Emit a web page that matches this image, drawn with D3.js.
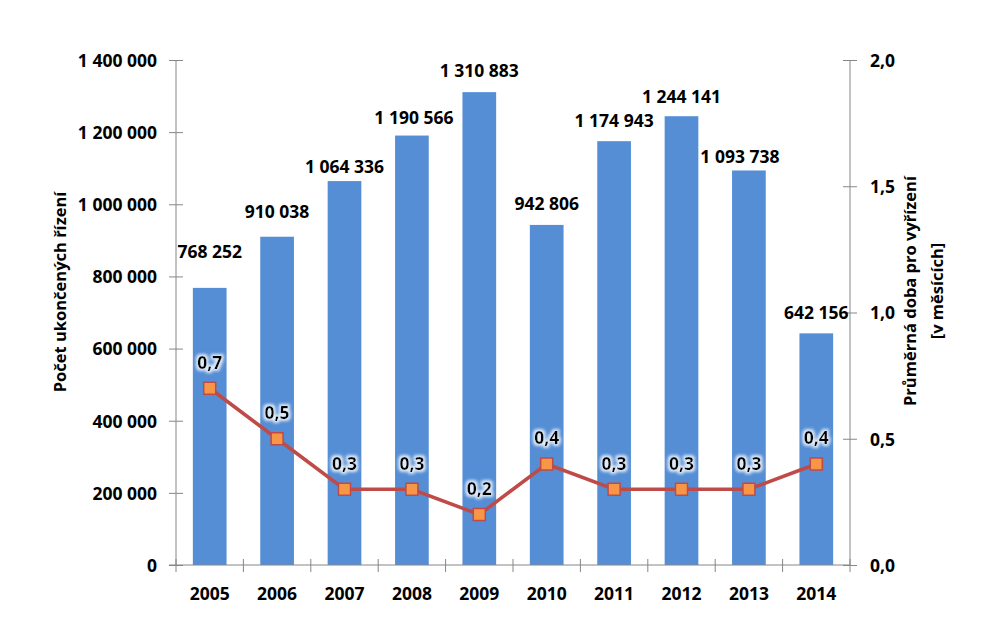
<!DOCTYPE html>
<html><head><meta charset="utf-8">
<script src="https://cdn.jsdelivr.net/npm/d3@7"></script>
<style>
html,body{margin:0;padding:0;background:#fff;}
text{font-family:"Open Sans",sans-serif;font-weight:bold;font-size:17.5px;fill:#000;}
text.title{font-size:16.5px;}
</style></head>
<body>
<svg id="c" width="982" height="638"></svg>
<script>
const years = ["2005","2006","2007","2008","2009","2010","2011","2012","2013","2014"];
const ended = [768252, 910038, 1064336, 1190566, 1310883, 942806, 1174943, 1244141, 1093738, 642156];
const avgMonths = [0.7, 0.5, 0.3, 0.3, 0.2, 0.4, 0.3, 0.3, 0.3, 0.4];
const leftTicks = [0, 200000, 400000, 600000, 800000, 1000000, 1200000, 1400000];
const rightTicks = [0, 0.5, 1.0, 1.5, 2.0];
const leftTitle = "Počet ukončených řízení";
const rightTitle = ["Průměrná doba pro vyřízení", "[v měsících]"];
// manual label nudges (layout only)
const barLabelDy = [-16, -5, 6, 2, -1, -1, 0, 0, 6, -1];
const barLabelDx = [0, 0, 0, 2, 0, 0, 0, 0, -9, 0];

const loc = d3.formatLocale({decimal: ",", thousands: "\u00a0", grouping: [3], currency: ["", ""]});
const fmtInt = loc.format(",d");
const fmt1 = loc.format(".1f");

const svg = d3.select("#c");
const L = 176, R = 850, T = 60, B = 565;
const x = d3.scaleBand().domain(years).range([L, R]).paddingInner(0.5).paddingOuter(0.25);
const yL = d3.scaleLinear().domain([0, 1400000]).range([B, T]);
const yR = d3.scaleLinear().domain([0, 2]).range([B, T]);
const axisCol = "#868686";

// bars
svg.append("g").selectAll("rect").data(years).join("rect")
  .attr("x", d => x(d)).attr("width", x.bandwidth())
  .attr("y", (d, i) => yL(ended[i])).attr("height", (d, i) => B - yL(ended[i]))
  .attr("fill", "#558ED5");

// left axis
const gL = svg.append("g").attr("transform", `translate(${L},0)`)
  .call(d3.axisLeft(yL).tickValues(leftTicks).tickFormat(fmtInt).tickSize(7).tickPadding(12));
gL.select(".domain").attr("stroke", axisCol).attr("d", `M0,${T}V${B}`);
gL.selectAll(".tick line").attr("stroke", axisCol).attr("x1", -7).attr("x2", 7);
gL.selectAll(".tick text").attr("dy", "0.36em");
gL.attr("font-size", null).attr("font-family", null);

// right axis
const gR = svg.append("g").attr("transform", `translate(${R},0)`)
  .call(d3.axisRight(yR).tickValues(rightTicks).tickFormat(fmt1).tickSize(7).tickPadding(13));
gR.select(".domain").attr("stroke", axisCol).attr("d", `M0,${T}V${B}`);
gR.selectAll(".tick line").attr("stroke", axisCol).attr("x1", -7).attr("x2", 7);
gR.selectAll(".tick text").attr("dy", "0.36em");
gR.attr("font-size", null).attr("font-family", null);

// bottom axis
const step = x.step();
const gB = svg.append("g");
gB.append("line").attr("x1", L - 7).attr("x2", R).attr("y1", B).attr("y2", B).attr("stroke", axisCol);
gB.selectAll("line.t").data(d3.range(years.length + 1)).join("line").attr("class", "t")
  .attr("x1", i => L + i * step).attr("x2", i => L + i * step)
  .attr("y1", B - 6).attr("y2", B + 7).attr("stroke", axisCol);
gB.selectAll("text").data(years).join("text")
  .attr("x", d => x(d) + x.bandwidth() / 2).attr("y", 600).attr("text-anchor", "middle").text(d => d);

// bar labels
svg.append("g").selectAll("text").data(years).join("text")
  .attr("x", (d, i) => x(d) + x.bandwidth() / 2 + barLabelDx[i])
  .attr("y", (d, i) => yL(ended[i]) - 20 + barLabelDy[i])
  .attr("dy", "0.36em").attr("text-anchor", "middle").text((d, i) => fmtInt(ended[i]));

// line
const cx = d => x(d) + x.bandwidth() / 2;
svg.append("path").datum(years)
  .attr("d", d3.line().x(cx).y((d, i) => yR(avgMonths[i])))
  .attr("fill", "none").attr("stroke", "#BE4B48").attr("stroke-width", 3.5);
svg.append("g").selectAll("rect").data(years).join("rect")
  .attr("x", d => cx(d) - 6).attr("y", (d, i) => yR(avgMonths[i]) - 6)
  .attr("width", 12).attr("height", 12)
  .attr("fill", "#F79646").attr("stroke", "#BE4B48").attr("stroke-width", 1.5);

// glow filter
const defs = svg.append("defs");
const f = defs.append("filter").attr("id", "glow").attr("x", "-30%").attr("y", "-50%").attr("width", "160%").attr("height", "200%");
f.append("feMorphology").attr("in", "SourceAlpha").attr("operator", "dilate").attr("radius", 2).attr("result", "d");
f.append("feGaussianBlur").attr("in", "d").attr("stdDeviation", 1.5).attr("result", "b");
f.append("feFlood").attr("flood-color", "#dfeaf7").attr("result", "c");
f.append("feComposite").attr("in", "c").attr("in2", "b").attr("operator", "in").attr("result", "g");
const m = f.append("feMerge");
m.append("feMergeNode").attr("in", "g");
m.append("feMergeNode").attr("in", "SourceGraphic");

svg.append("g").selectAll("text").data(years).join("text")
  .attr("x", cx).attr("y", (d, i) => yR(avgMonths[i]) - 26)
  .attr("dy", "0.36em").attr("text-anchor", "middle").attr("filter", "url(#glow)")
  .text((d, i) => fmt1(avgMonths[i]));

// titles
svg.append("text").attr("class", "title").attr("transform", "translate(66,292) rotate(-90)")
  .attr("text-anchor", "middle").text(leftTitle);
svg.append("text").attr("class", "title").attr("transform", "translate(916,291) rotate(-90)")
  .attr("text-anchor", "middle").text(rightTitle[0]);
svg.append("text").attr("class", "title").attr("transform", "translate(943,291) rotate(-90)")
  .attr("text-anchor", "middle").text(rightTitle[1]);
</script>
</body></html>
